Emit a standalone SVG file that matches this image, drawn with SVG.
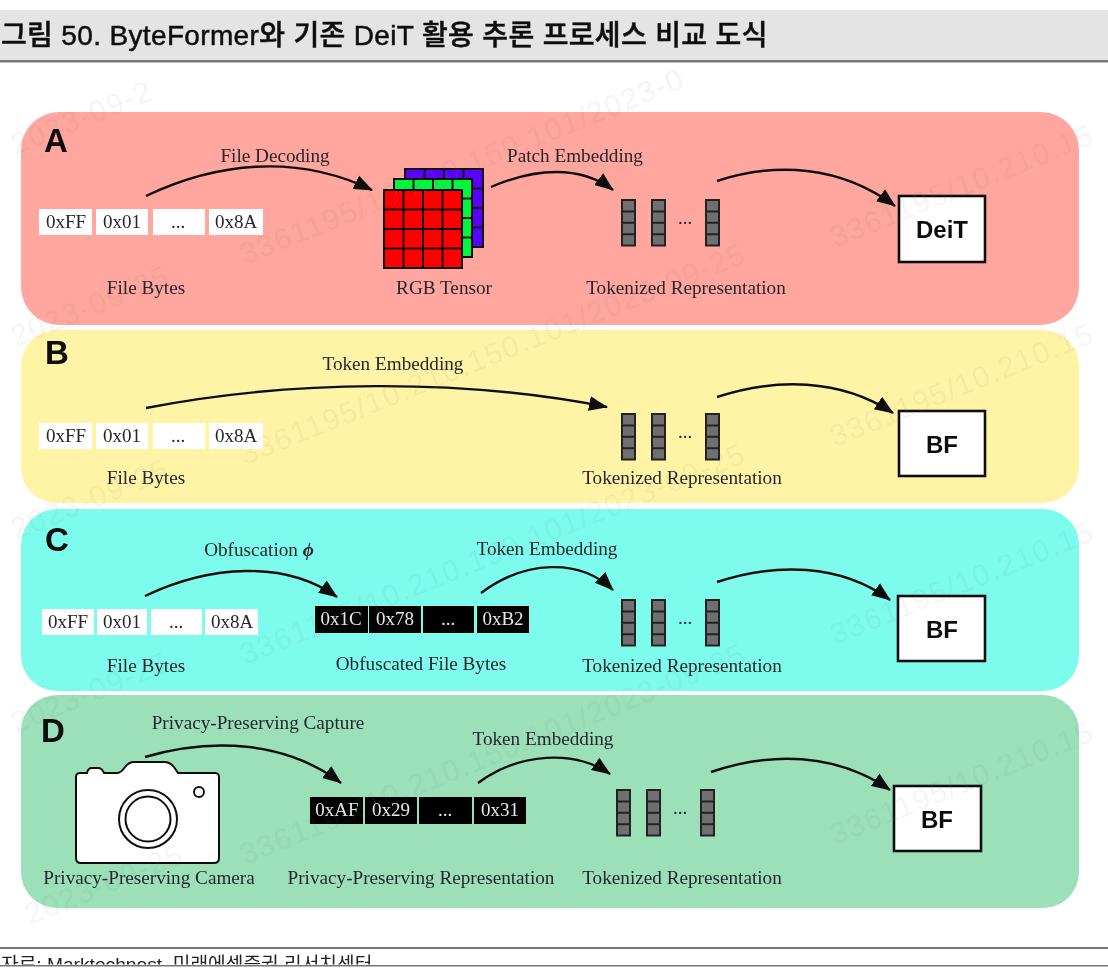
<svg xmlns="http://www.w3.org/2000/svg" width="1108" height="969" viewBox="0 0 1108 969">
<style>
text{font-family:"Liberation Serif","Noto Sans CJK KR",serif;fill:#26262e}
.lbl{font-size:19.200px;text-anchor:middle}
.hex{font-size:19px;text-anchor:middle}
.dk{fill:#e8e8e8}
.let{font-family:"Liberation Sans",sans-serif;font-weight:700;font-size:33px;fill:#0a0a0a}
.bx{fill:#fff;stroke:#111;stroke-width:2.6}
.bt{font-family:"Liberation Sans",sans-serif;font-weight:700;font-size:24px;text-anchor:middle;fill:#111}
.w{fill:#fff}.k{fill:#000}
.arrow{fill:none;stroke:#111;stroke-width:2.400;marker-end:url(#ah)}
.wm{font-family:"Liberation Sans",sans-serif;font-size:30px;letter-spacing:1.500px;fill:#777;fill-opacity:.07}
.grid{stroke:#111;stroke-width:2}
</style>
<defs>
<filter id="soft" x="0" y="0" width="100%" height="100%"><feGaussianBlur stdDeviation="0.7"/></filter>
<marker id="ah" markerUnits="userSpaceOnUse" markerWidth="20" markerHeight="18" refX="18" refY="9" orient="auto"><path d="M0 1.500L19 9L0 16.500Z" fill="#111"/></marker>
<g id="tok"><rect x="0" y="0" width="13" height="45.500" fill="#707070" stroke="#222" stroke-width="2"/><path d="M0 11.400H13M0 22.800H13M0 34.200H13" stroke="#222" stroke-width="2"/></g>
<g id="toks"><use href="#tok" x="0"/><use href="#tok" x="30"/><use href="#tok" x="84"/><text class="hex" x="63" y="24">...</text></g>
<clipPath id="foot"><rect x="0" y="949" width="1108" height="15.500"/></clipPath>
</defs>
<rect width="1108" height="969" fill="#fff"/>
<g filter="url(#soft)">
<g id="title">
<rect x="0" y="10" width="1108" height="51" fill="#e4e4e4"/>
<rect x="0" y="60" width="1108" height="2.500" fill="#777"/>
<text x="1" y="45" stroke="#111" stroke-width=".5" letter-spacing=".35" style="font-family:'Liberation Sans','Noto Sans CJK KR',sans-serif;font-size:28px;font-weight:500;fill:#111">그림 50. ByteFormer와 기존 DeiT 활용 추론 프로세스 비교 도식</text>
</g>
<g id="panels">
<rect id="panel-a" x="21" y="112" width="1058" height="213" rx="38" fill="#ffa69e"/>
<rect id="panel-b" x="21" y="330" width="1058" height="173" rx="36" fill="#fff4a6"/>
<rect id="panel-c" x="21" y="509" width="1058" height="182" rx="36" fill="#7dfcee"/>
<rect id="panel-d" x="21" y="695" width="1058" height="213" rx="36" fill="#9ce0ba"/>
</g>
<g id="connectors">
<path class="arrow" d="M146 196C215 163 295 153 372 190"/>
<path class="arrow" d="M491 187C535 168 580 165 613 190"/>
<path class="arrow" d="M717 181C775 162 840 165 895 206"/>
<path class="arrow" d="M146 408C290 380 460 378 607 407"/>
<path class="arrow" d="M717 397C775 378 840 378 893 413"/>
<path class="arrow" d="M145 596C210 565 285 560 337 597"/>
<path class="arrow" d="M481 593C525 560 580 558 613 590"/>
<path class="arrow" d="M717 582C775 563 840 563 890 600"/>
<path class="arrow" d="M145 757C210 738 285 740 341 783"/>
<path class="arrow" d="M478 783C520 752 575 750 610 774"/>
<path class="arrow" d="M711 772C770 752 835 752 890 790"/>
</g>
<g id="a">
<text class="let" x="44" y="152">A</text>
<text class="lbl" x="275" y="162">File Decoding</text>
<text class="lbl" x="575" y="162">Patch Embedding</text>
<g id="a-bytes"><rect class="w" x="39" y="209" width="53" height="26"/><rect class="w" x="96" y="209" width="52" height="26"/><rect class="w" x="153" y="209" width="52" height="26"/><rect class="w" x="209" y="209" width="54" height="26"/>
<text class="hex" x="66" y="228">0xFF</text><text class="hex" x="122" y="228">0x01</text><text class="hex" x="178" y="228">...</text><text class="hex" x="236" y="228">0x8A</text></g>
<text class="lbl" x="146" y="294">File Bytes</text>
<g id="rgb-tensor">
<rect x="405" y="169" width="78" height="78" fill="#5a00ff" stroke="#111" stroke-width="2"/>
<path class="grid" fill="none" d="M424.500 169V180M444 169V180M463.500 169V180M472 188.500H483M472 208H483M472 227.500H483"/>
<rect x="394" y="179" width="78" height="78" fill="#00f53c" stroke="#111" stroke-width="2"/>
<path class="grid" fill="none" d="M413.500 179V190M433 179V190M452.500 179V190M461 198.500H472M461 218H472M461 237.500H472"/>
<rect x="384" y="190" width="78" height="78" fill="#f00" stroke="#111" stroke-width="2"/>
<path class="grid" fill="none" d="M403.500 190V268M423 190V268M442.500 190V268M384 209.500H462M384 229H462M384 248.500H462"/>
</g>
<text class="lbl" x="444" y="294">RGB Tensor</text>
<use id="a-tokens" href="#toks" x="622" y="200"/>
<text class="lbl" x="686" y="294">Tokenized Representation</text>
<g id="a-deit"><rect class="bx" x="899" y="196" width="86" height="66"/><text class="bt" x="942" y="238">DeiT</text></g>
</g>
<g id="b">
<text class="let" x="45" y="364">B</text>
<text class="lbl" x="393" y="370">Token Embedding</text>
<g id="b-bytes"><rect class="w" x="39" y="423" width="53" height="26"/><rect class="w" x="96" y="423" width="52" height="26"/><rect class="w" x="153" y="423" width="52" height="26"/><rect class="w" x="209" y="423" width="54" height="26"/>
<text class="hex" x="66" y="442">0xFF</text><text class="hex" x="122" y="442">0x01</text><text class="hex" x="178" y="442">...</text><text class="hex" x="236" y="442">0x8A</text></g>
<text class="lbl" x="146" y="484">File Bytes</text>
<use id="b-tokens" href="#toks" x="622" y="414"/>
<text class="lbl" x="682" y="484">Tokenized Representation</text>
<g id="b-bf"><rect class="bx" x="899" y="411" width="86" height="65"/><text class="bt" x="942" y="453">BF</text></g>
</g>
<g id="c">
<text class="let" x="45" y="551">C</text>
<text class="lbl" x="259" y="556">Obfuscation <tspan font-style="italic" font-weight="700">ϕ</tspan></text>
<text class="lbl" x="547" y="555">Token Embedding</text>
<g id="c-bytes"><rect class="w" x="42" y="609" width="52" height="26"/><rect class="w" x="97" y="609" width="50" height="26"/><rect class="w" x="151" y="609" width="51" height="26"/><rect class="w" x="205" y="609" width="53" height="26"/>
<text class="hex" x="68" y="628">0xFF</text><text class="hex" x="122" y="628">0x01</text><text class="hex" x="176" y="628">...</text><text class="hex" x="232" y="628">0x8A</text></g>
<text class="lbl" x="146" y="672">File Bytes</text>
<g id="c-obf"><rect class="k" x="315" y="606" width="53" height="27"/><rect class="k" x="369" y="606" width="52" height="27"/><rect class="k" x="423" y="606" width="51" height="27"/><rect class="k" x="477" y="606" width="52" height="27"/>
<text class="hex dk" x="341" y="625">0x1C</text><text class="hex dk" x="395" y="625">0x78</text><text class="hex dk" x="448" y="625">...</text><text class="hex dk" x="503" y="625">0xB2</text></g>
<text class="lbl" x="421" y="670">Obfuscated File Bytes</text>
<use id="c-tokens" href="#toks" x="622" y="600"/>
<text class="lbl" x="682" y="672">Tokenized Representation</text>
<g id="c-bf"><rect class="bx" x="898" y="596" width="87" height="65"/><text class="bt" x="942" y="638">BF</text></g>
</g>
<g id="d">
<text class="let" x="41" y="742">D</text>
<text class="lbl" x="258" y="729">Privacy-Preserving Capture</text>
<text class="lbl" x="543" y="745">Token Embedding</text>
<g id="camera">
<path d="M80 773H87Q88 768 92 768H98Q102 768 104 773H117Q121 773 125 767Q129 762 134 762H164Q170 762 174 767L178 773H215Q219 773 219 777V858Q219 863 214 863H81Q76 863 76 858V777Q76 773 80 773Z" fill="#fff" stroke="#111" stroke-width="2"/>
<circle cx="148" cy="819" r="29" fill="none" stroke="#111" stroke-width="2"/>
<circle cx="148" cy="819" r="22.500" fill="none" stroke="#111" stroke-width="2"/>
<circle cx="199" cy="792" r="5" fill="none" stroke="#111" stroke-width="2"/>
</g>
<text class="lbl" x="149" y="884">Privacy-Preserving Camera</text>
<g id="d-rep"><rect class="k" x="310" y="797" width="53" height="27"/><rect class="k" x="365" y="797" width="52" height="27"/><rect class="k" x="419" y="797" width="53" height="27"/><rect class="k" x="474" y="797" width="52" height="27"/>
<text class="hex dk" x="337" y="816">0xAF</text><text class="hex dk" x="391" y="816">0x29</text><text class="hex dk" x="445" y="816">...</text><text class="hex dk" x="500" y="816">0x31</text></g>
<text class="lbl" x="421" y="884">Privacy-Preserving Representation</text>
<use id="d-tokens" href="#toks" x="617" y="790"/>
<text class="lbl" x="682" y="884">Tokenized Representation</text>
<g id="d-bf"><rect class="bx" x="894" y="786" width="87" height="65"/><text class="bt" x="937" y="828">BF</text></g>
</g>
<g id="watermarks">
<text class="wm" transform="translate(16 155) rotate(-22)">2023-09-2</text>
<text class="wm" transform="translate(16 347) rotate(-22)">2023-09-25</text>
<text class="wm" transform="translate(16 540) rotate(-22)">2023-09-25</text>
<text class="wm" transform="translate(16 733) rotate(-22)">2023-09-25</text>
<text class="wm" transform="translate(30 925) rotate(-22)">2023-09-25</text>
<text class="wm" transform="translate(245 265) rotate(-22)">3361195/10.210.150.101/2023-0</text>
<text class="wm" transform="translate(245 465) rotate(-22)">3361195/10.210.150.101/2023-09-25</text>
<text class="wm" transform="translate(245 665) rotate(-22)">3361195/10.210.150.101/2023-09-25</text>
<text class="wm" transform="translate(245 865) rotate(-22)">3361195/10.210.150.101/2023-09-25</text>
<text class="wm" transform="translate(835 248) rotate(-22)">3361195/10.210.15</text>
<text class="wm" transform="translate(835 447) rotate(-22)">3361195/10.210.15</text>
<text class="wm" transform="translate(835 645) rotate(-22)">3361195/10.210.15</text>
<text class="wm" transform="translate(835 845) rotate(-22)">3361195/10.210.15</text>
</g>
<g id="footer">
<rect x="0" y="947" width="1108" height="2" fill="#777"/>
<rect x="0" y="965" width="1108" height="1.500" fill="#777"/>
<text clip-path="url(#foot)" x="1" y="971" style="font-family:'Liberation Sans','Noto Sans CJK KR',sans-serif;font-size:19.200px;fill:#222">자료: Marktechpost, 미래에셋증권 리서치센터</text>
</g>
</g>
</svg>
